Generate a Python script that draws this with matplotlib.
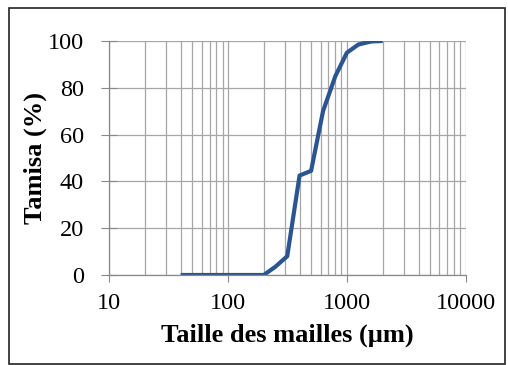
import matplotlib
matplotlib.use("Agg")
import matplotlib.pyplot as plt
from matplotlib.patches import Rectangle
from matplotlib.ticker import LogLocator, FixedLocator, NullFormatter

# sieve sizes (um) and cumulative passing (%)
sizes = [40, 80, 100, 160, 200, 250, 315, 400, 500, 630, 800, 1000, 1250, 1600, 2000]
passing = [0, 0, 0, 0, 0, 3.5, 8, 42.5, 44.5, 70, 85, 95, 98.5, 99.8, 100]

x_ticks = [10, 100, 1000, 10000]
x_tick_labels = ["10", "100", "1000", "10000"]
y_ticks = [0, 20, 40, 60, 80, 100]

plt.rcParams["font.family"] = ["Liberation Serif", "DejaVu Serif"]

fig = plt.figure(figsize=(5.08, 3.65), dpi=100)
ax = fig.add_axes([0.2146, 0.2466, 0.7024, 0.6411])

grid_col = "#a6a6a6"
ax.set_xscale("log")
ax.set_xlim(10, 10000)
ax.set_ylim(0, 100)

ax.xaxis.set_major_locator(FixedLocator(x_ticks))
ax.set_xticklabels(x_tick_labels)
ax.xaxis.set_minor_locator(LogLocator(base=10, subs=range(2, 10)))
ax.xaxis.set_minor_formatter(NullFormatter())
ax.set_yticks(y_ticks)

ax.grid(True, which="both", color=grid_col, linewidth=0.9)
ax.set_axisbelow(True)

ax.plot(sizes, passing, color="#2a5591", linewidth=3, solid_joinstyle="round",
        solid_capstyle="butt")

for s in ["top", "right"]:
    ax.spines[s].set_visible(False)
for s in ["left", "bottom"]:
    ax.spines[s].set_color("#888888")
    ax.spines[s].set_linewidth(0.9)

ax.tick_params(axis="x", which="major", direction="out", length=5, color="#888888",
               labelsize=17.5, pad=8)
ax.tick_params(axis="x", which="minor", length=0)
ax.tick_params(axis="y", direction="inout", length=12, color="#888888",
               labelsize=17.5, pad=12)

ax.set_xlabel("Taille des mailles (µm)", fontsize=19, fontweight="bold", labelpad=7)
ax.set_ylabel("Tamisa (%)", fontsize=19, fontweight="bold", labelpad=1)

# outer frame
fig.patches.append(Rectangle((0.018, 0.003), 0.976, 0.975, transform=fig.transFigure,
                             fill=False, edgecolor="#222222", linewidth=1.2))

fig.savefig("out.png", dpi=100)
